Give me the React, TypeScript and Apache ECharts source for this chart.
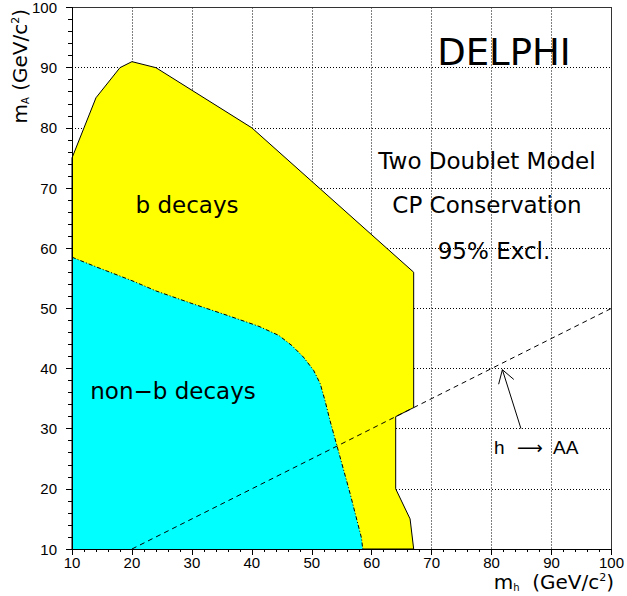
import React, { useEffect, useRef } from "react";
import * as echarts from "echarts";

// Axis range (GeV/c^2)
const axisMin = 10;
const axisMax = 100;
const axisStep = 10;

// "b decays" excluded region (yellow), boundary points [m_h, m_A]
const yellowMh = [10, 10, 14, 18, 20, 24, 40, 67, 67, 64, 64, 66.4, 67];
const yellowMa = [10, 75, 85, 90, 91, 90, 80, 56, 33.5, 32, 20, 15, 10];

// "non-b decays" excluded region (cyan), boundary points [m_h, m_A]
const cyanMh = [10, 10, 14, 20, 24, 30, 36, 41.2, 44.5, 46.7, 48.6, 50.3, 51.4, 52.2, 53, 56.4, 58.3, 58.5];
const cyanMa = [10, 58.5, 56.9, 54.6, 52.9, 50.8, 48.8, 47, 45.5, 43.8, 41.9, 39.7, 37.5, 34.7, 31.5, 19.2, 11.8, 10];

// kinematic line h -> AA : m_A = m_h / 2
const hToAAMh = [20, 100];
const hToAAMa = [10, 50];

// annotation arrow (from, to) in data coordinates
const arrowFrom = [84.9, 30.0];
const arrowTo = [81.8, 39.8];

const TEXT_FONT = "'DejaVu Sans', sans-serif";
const TICK_FONT = "'Liberation Sans', Arial, sans-serif";

export default function App() {
  const ref = useRef<HTMLDivElement>(null);

  useEffect(() => {
    if (!ref.current) return;
    const chart = echarts.init(ref.current, null, { renderer: "svg" });

    const polySeries = (xs: number[], ys: number[], fill: string, stroke: string | null, z: number) => ({
      type: "custom",
      coordinateSystem: "cartesian2d",
      xAxisIndex: 0,
      yAxisIndex: 0,
      z,
      silent: true,
      data: xs.map((x, i) => [x, ys[i]]),
      renderItem: (params: any, api: any) => {
        if (params.dataIndex !== 0) return null;
        const pts = xs.map((x, i) => api.coord([x, ys[i]]));
        return {
          type: "polygon",
          shape: { points: pts },
          style: stroke ? { fill, stroke, lineWidth: 1 } : { fill, stroke: null },
        };
      },
    });

    const cyanEdgeX = cyanMh.slice(1);
    const cyanEdgeY = cyanMa.slice(1);

    const axisCommon = (pos: "bottom" | "left") => ({
      type: "value",
      min: axisMin,
      max: axisMax,
      interval: axisStep,
      position: pos,
      z: 10,
      axisLine: { show: true, onZero: false, lineStyle: { color: "#000", width: 1 } },
      axisTick: { show: true, inside: false, length: 6, lineStyle: { color: "#000", width: 1 } },
      minorTick: { show: true, splitNumber: 5, length: pos === "left" ? 4 : 3, lineStyle: { color: "#000", width: 1 } },
      axisLabel: {
        color: "#000",
        fontFamily: TICK_FONT,
        fontSize: 15,
        margin: pos === "left" ? 15 : 6,
        showMinLabel: true,
        showMaxLabel: true,
      },
      splitLine: { show: false },
    });

    const axisFrame = (pos: "top" | "right") => ({
      type: "value",
      min: axisMin,
      max: axisMax,
      interval: axisStep,
      position: pos,
      z: 0,
      axisLine: { show: true, onZero: false, lineStyle: { color: "#333", width: 1 } },
      axisTick: { show: false },
      axisLabel: { show: false },
      splitLine: { show: true, lineStyle: { color: "#000", width: 1, type: [1, 2] } },
    });

    const titleRich = {
      m: { fontFamily: TEXT_FONT, fontSize: 20, lineHeight: 20, fill: "#000", color: "#000" },
      s: { fontFamily: TEXT_FONT, fontSize: 10, lineHeight: 20, fill: "#000", color: "#000", verticalAlign: "bottom" },
      p: { fontFamily: TEXT_FONT, fontSize: 11, lineHeight: 20, fill: "#000", color: "#000", verticalAlign: "top" },
    };

    chart.setOption({
      animation: false,
      backgroundColor: "#fff",
      grid: { left: 72, right: 12, top: 6, bottom: 47, containLabel: false },
      xAxis: [axisCommon("bottom"), axisFrame("top")],
      yAxis: [axisCommon("left"), axisFrame("right")],
      series: [
        polySeries(yellowMh, yellowMa, "#ffff00", "#000", 2),
        polySeries(cyanMh, cyanMa, "#00ffff", null, 3),
        {
          type: "custom",
          coordinateSystem: "cartesian2d",
          xAxisIndex: 0,
          yAxisIndex: 0,
          z: 4,
          silent: true,
          data: cyanEdgeX.map((x, i) => [x, cyanEdgeY[i]]),
          renderItem: (params: any, api: any) => {
            if (params.dataIndex !== 0) return null;
            const pts = cyanEdgeX.map((x, i) => api.coord([x, cyanEdgeY[i]]));
            return {
              type: "polyline",
              shape: { points: pts },
              style: { fill: null, stroke: "#000", lineWidth: 1, lineDash: [4, 2, 1, 2] },
            };
          },
        },
        {
          type: "line",
          xAxisIndex: 0,
          yAxisIndex: 0,
          z: 5,
          silent: true,
          symbol: "none",
          data: hToAAMh.map((x, i) => [x, hToAAMa[i]]),
          lineStyle: { color: "#000", width: 1, type: [5, 4] },
        },
        {
          type: "custom",
          coordinateSystem: "cartesian2d",
          xAxisIndex: 0,
          yAxisIndex: 0,
          z: 6,
          silent: true,
          data: [arrowFrom, arrowTo],
          renderItem: (params: any, api: any) => {
            if (params.dataIndex !== 0) return null;
            const p0 = api.coord(arrowFrom);
            const p1 = api.coord(arrowTo);
            const ang = Math.atan2(p0[1] - p1[1], p0[0] - p1[0]);
            const len = 15;
            const spread = (32 * Math.PI) / 180;
            const b1 = [p1[0] + len * Math.cos(ang + spread), p1[1] + len * Math.sin(ang + spread)];
            const b2 = [p1[0] + len * Math.cos(ang - spread), p1[1] + len * Math.sin(ang - spread)];
            const st = { stroke: "#000", lineWidth: 1 };
            return {
              type: "group",
              children: [
                { type: "line", shape: { x1: p0[0], y1: p0[1], x2: p1[0], y2: p1[1] }, style: st },
                { type: "line", shape: { x1: p1[0], y1: p1[1], x2: b1[0], y2: b1[1] }, style: st },
                { type: "line", shape: { x1: p1[0], y1: p1[1], x2: b2[0], y2: b2[1] }, style: st },
              ],
            };
          },
        },
      ],
      graphic: [
        {
          type: "text",
          x: 504,
          y: 52,
          z: 20,
          style: { text: "DELPHI", fontFamily: TEXT_FONT, fontSize: 37, fill: "#000", align: "center", verticalAlign: "middle" },
        },
        {
          type: "text",
          x: 487,
          y: 161,
          z: 20,
          style: { text: "Two Doublet Model", fontFamily: TEXT_FONT, fontSize: 23, fill: "#000", align: "center", verticalAlign: "middle" },
        },
        {
          type: "text",
          x: 487,
          y: 205,
          z: 20,
          style: { text: "CP Conservation", fontFamily: TEXT_FONT, fontSize: 23, fill: "#000", align: "center", verticalAlign: "middle" },
        },
        {
          type: "text",
          x: 494,
          y: 251,
          z: 20,
          style: { text: "95% Excl.", fontFamily: TEXT_FONT, fontSize: 23, fill: "#000", align: "center", verticalAlign: "middle" },
        },
        {
          type: "text",
          x: 187,
          y: 205,
          z: 20,
          style: { text: "b decays", fontFamily: TEXT_FONT, fontSize: 23, fill: "#000", align: "center", verticalAlign: "middle" },
        },
        {
          type: "text",
          x: 173,
          y: 391,
          z: 20,
          style: { text: "non\u2212b decays", fontFamily: TEXT_FONT, fontSize: 23, fill: "#000", align: "center", verticalAlign: "middle" },
        },
        {
          type: "text",
          x: 494,
          y: 447,
          z: 20,
          style: { text: "h", fontFamily: TICK_FONT, fontSize: 19, fill: "#000", align: "left", verticalAlign: "middle" },
        },
        {
          type: "text",
          x: 530,
          y: 447,
          z: 20,
          style: { text: "\u27F6", fontFamily: TEXT_FONT, fontSize: 18, fill: "#000", align: "center", verticalAlign: "middle" },
        },
        {
          type: "text",
          x: 553,
          y: 447,
          z: 20,
          style: { text: "AA", fontFamily: TICK_FONT, fontSize: 19, fill: "#000", align: "left", verticalAlign: "middle" },
        },
        {
          type: "text",
          x: 614,
          y: 582,
          z: 20,
          style: {
            text: "{m|m}{s|h}{m|  (GeV/c}{p|2}{m|)}",
            align: "right",
            verticalAlign: "middle",
            rich: titleRich,
          },
        },
        {
          type: "text",
          x: 20,
          y: 9,
          z: 20,
          rotation: Math.PI / 2,
          style: {
            text: "{m|m}{s|A}{m| (GeV/c}{p|2}{m|)}",
            align: "right",
            verticalAlign: "middle",
            rich: titleRich,
          },
        },
      ],
    });

    return () => {
      chart.dispose();
    };
  }, []);

  return (
    <div
      ref={ref}
      style={{ position: "absolute", left: 0, top: 0, width: 627, height: 596 }}
    />
  );
}
